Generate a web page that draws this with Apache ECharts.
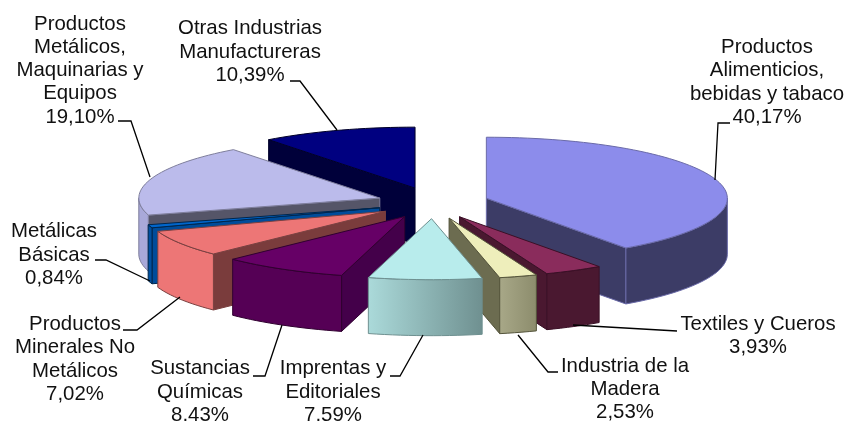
<!DOCTYPE html>
<html>
<head>
<meta charset="utf-8">
<style>html,body{margin:0;padding:0;background:#fff}#c{width:848px;height:421px}</style>
<script src="https://cdn.jsdelivr.net/npm/echarts@6/dist/echarts.min.js"></script>
</head>
<body>
<div id="c"></div>
<script>
// ---- data ----
const categories = [
  'Productos\nAlimenticios,\nbebidas y tabaco',
  'Textiles y Cueros',
  'Industria de la\nMadera',
  'Imprentas y\nEditoriales',
  'Sustancias\nQuímicas',
  'Productos\nMinerales No\nMetálicos',
  'Metálicas\nBásicas',
  'Productos\nMetálicos,\nMaquinarias y\nEquipos',
  'Otras Industrias\nManufactureras'
];
const values = [40.17, 3.93, 2.53, 7.59, 8.43, 7.02, 0.84, 19.10, 10.39];

// ---- styles per slice: top face, arc wall (left/right), radial wall ----
const topColors = ['#8C8CEB','#8A2C5C','#EEEEBB','#B8ECEC','#660066','#ED7676','#0066CC','#BBBBEB','#000080'];
const arcColors = [['#3C3C66','#3C3C66'],['#4A1830','#4A1830'],['#A8A888','#8C8C6C'],['#ABDADA','#6F9090'],
                   ['#550055','#550055'],['#ED7676','#ED7676'],['#00509F','#00509F'],['#A9A9D9','#A9A9D9'],['#000050','#000050']];
const radialColors = ['#3C3C66','#4A1830','#6C6C50','#6F9090','#44004A','#7A3C3C','#004C9A','#555568','#00003A'];
const edgeColors = ['#6A6AA8','#3A1026','#55553C','#6E9090','#300030','#7A4040','#00264D','#7E7E9C','#000028'];

// ---- pie geometry ----
const pie = { cx: 433, cy: 203, rx: 241, ry: 61, depth: 56, explode: 56, explodeY: 0.28 };

// ---- annotation layout ----
const labelAt = [[767,82.5],[758,336],[625,389.5],[333,392],[200,392],[75,359.5],[54,255],[80,70.5],[250,52]];
const leaders = [
  [[730,123],[718,123],[715,180]],
  [[677,331],[573,325]],
  [[558,372],[548,372],[518,335]],
  [[390,376],[400,376],[423,335]],
  [[253,376],[265,376],[282,325]],
  [[123,330],[137,330],[180,297]],
  [[95,260],[106,260],[150,281]],
  [[118,121],[131,121],[150,177]],
  [[290,81],[300,81],[337,130]]
];

const total = values.reduce((a, b) => a + b, 0);
const RAD = Math.PI / 180;
const fmt = v => v.toFixed(2).replace('.', ',') + '%';

function renderItem(params, api) {
  const i = params.dataIndex;
  const v = api.value(0);
  let before = 0;
  for (let k = 0; k < i; k++) before += values[k];
  const a0 = before / total * 360, a1 = (before + v) / total * 360, mid = (a0 + a1) / 2;
  const ax = pie.cx + pie.explode * Math.sin(mid * RAD);
  const ay = pie.cy - pie.explode * pie.explodeY * Math.cos(mid * RAD);
  const at = d => [ax + pie.rx * Math.sin(d * RAD), ay - pie.ry * Math.cos(d * RAD)];
  const arc = (from, to) => {
    const n = Math.max(2, Math.ceil((to - from) / 2)), pts = [];
    for (let k = 0; k <= n; k++) pts.push(at(from + (to - from) * k / n));
    return pts;
  };
  const down = p => [p[0], p[1] + pie.depth];
  const base = Math.round((1 - Math.cos(mid * RAD)) * 100) * 10;
  const edge = { stroke: edgeColors[i], lineWidth: 1 };
  const children = [];
  const radialWall = (d, z) => {
    const p = at(d);
    children.push({ type: 'polygon', z2: base + z,
      shape: { points: [[ax, ay], p, down(p), [ax, ay + pie.depth]] },
      style: Object.assign({ fill: radialColors[i] }, edge) });
  };
  if (a0 > 180 && a0 < 360) radialWall(a0, 1);
  if (a1 > 0 && a1 < 180) radialWall(a1, 1);
  const w0 = Math.max(a0, 90), w1 = Math.min(a1, 270);
  if (w1 > w0) {
    const top = arc(w0, w1);
    const pts = top.concat(top.slice().reverse().map(down));
    children.push({ type: 'polygon', z2: base + 2, shape: { points: pts },
      style: Object.assign({
        fill: new echarts.graphic.LinearGradient(1, 0, 0, 0, [
          { offset: 0, color: arcColors[i][1] }, { offset: 1, color: arcColors[i][0] }
        ])
      }, edge) });
  }
  children.push({ type: 'polygon', z2: base + 3,
    shape: { points: [[ax, ay]].concat(arc(a0, a1)) },
    style: Object.assign({ fill: topColors[i] }, edge) });
  children.push({ type: 'polyline', z2: 5000, shape: { points: leaders[i] },
    style: { fill: 'none', stroke: '#000', lineWidth: 1.3 } });
  children.push({ type: 'text', z2: 5001, x: labelAt[i][0], y: labelAt[i][1],
    style: { text: categories[i] + '\n' + fmt(v), font: '20.4px "Liberation Sans", Arial, sans-serif',
      fill: '#111', align: 'center', verticalAlign: 'middle', lineHeight: 23.3 } });
  return { type: 'group', children };
}

const chart = echarts.init(document.getElementById('c'), null, { renderer: 'canvas' });
chart.setOption({
  animation: false,
  backgroundColor: '#fff',
  series: [{ type: 'custom', coordinateSystem: 'none', silent: true, clip: false,
    data: values.map(v => [v]), renderItem }]
});
</script>
</body>
</html>
